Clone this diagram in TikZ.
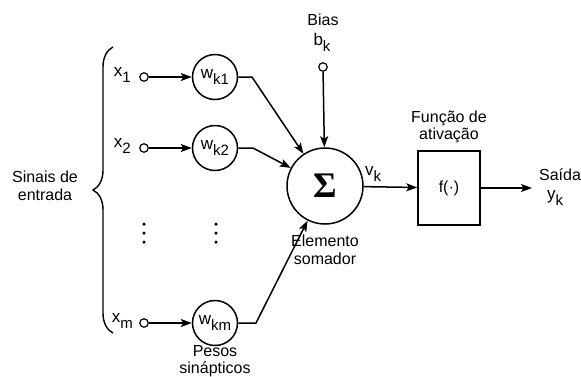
\documentclass[tikz,border=0pt]{standalone}
\usepackage{fontspec}
\setmainfont{Liberation Sans}
\newfontfamily\sigmafont{Liberation Serif}
\usetikzlibrary{arrows.meta,decorations.pathreplacing,calc}
\newcommand{\subs}[1]{\raisebox{-6.5pt}{\fontsize{15}{15}\selectfont #1}}
\begin{document}
\begin{tikzpicture}[x=1pt,y=-1pt,
  line width=1.5pt,
  txt/.style={font=\fontsize{16}{17.5}\selectfont, align=center, inner sep=0pt},
  lbl/.style={font=\fontsize{17}{17}\selectfont, inner sep=0pt},
  wnode/.style={draw, circle, minimum size=45pt, inner sep=0pt, font=\fontsize{17}{17}\selectfont},
  term/.style={draw, circle, minimum size=8.5pt, inner sep=0pt, line width=1.2pt},
  arr/.style={-{Stealth[length=11pt,width=8pt,inset=2.5pt]}},
  dotc/.style={fill, circle, minimum size=3.5pt, inner sep=0pt}]
\useasboundingbox (0,0) rectangle (581,376);
% brace
\draw[decorate, decoration={brace, amplitude=20pt, aspect=0.5}, line width=1.4pt]
  (113,333) -- (113,47);
\node[txt] (sinais) at (45,186) {Sinais de\\entrada};
% inputs
\node[term] (i1) at (144,77) {};
\node[term] (i2) at (144,148) {};
\node[term] (im) at (144,323) {};
\node[lbl, anchor=base west] (x1) at (113,76) {x\subs{1}};
\node[lbl, anchor=base west] (x2) at (113,147) {x\subs{2}};
\node[lbl, anchor=base west] (xm) at (111,322) {x\subs{m}};
% weights
\node[wnode] (w1) at (215,77) {w\subs{k1}};
\node[wnode] (w2) at (215,148) {w\subs{k2}};
\node[wnode] (wm) at (215,323) {w\subs{km}};
% dots
\node[dotc] (d1) at (144,224) {};
\node[dotc] (d2) at (144,233) {};
\node[dotc] (d3) at (144,242) {};
\node[dotc] (e1) at (216,224) {};
\node[dotc] (e2) at (216,233) {};
\node[dotc] (e3) at (216,242) {};
% summing
\node[draw, circle, minimum size=76pt, inner sep=0pt] (sig) at (325,186)
  {\sigmafont\bfseries\fontsize{36}{36}\selectfont Σ};
\node[txt] (elem) at (325,250) {Elemento\\somador};
\node[txt] (pesos) at (215,361) {Pesos\\sinápticos};
% bias
\node[txt] (bias) at (323,20) {Bias};
\node[lbl, anchor=base] (bk) at (322,45) {b\subs{k}};
\node[term] (bt) at (323,67) {};
% activation box
\node[draw, minimum width=62pt, minimum height=74pt, inner sep=0pt,
  font=\fontsize{16}{17.5}\selectfont] (box) at (449,188) {f(·)};
\node[txt] (func) at (449,127) {Função de\\ativação};
\node[lbl, anchor=base] (vk) at (373,175) {v\subs{k}};
\node[txt] (saida) at (560,175) {Saída};
\node[lbl, anchor=base] (yk) at (555,199) {y\subs{k}};
\coordinate (out) at (532,188);
% connectors
\draw[arr] (i1) -- (w1);
\draw[arr] (i2) -- (w2);
\draw[arr] (im) -- (wm);
\coordinate (b1) at (252,77);
\coordinate (b2) at (253,148);
\coordinate (bm) at (256,323);
\draw[arr] (w1.east) -- (b1) -- (sig);
\draw[arr] (w2.east) -- (b2) -- (sig);
\draw[arr] (wm.east) -- (bm) -- (sig);
\draw[arr] (bt) -- (sig);
\draw[arr] (sig) -- (box);
\draw[arr] (box) -- (out);
\end{tikzpicture}
\end{document}
